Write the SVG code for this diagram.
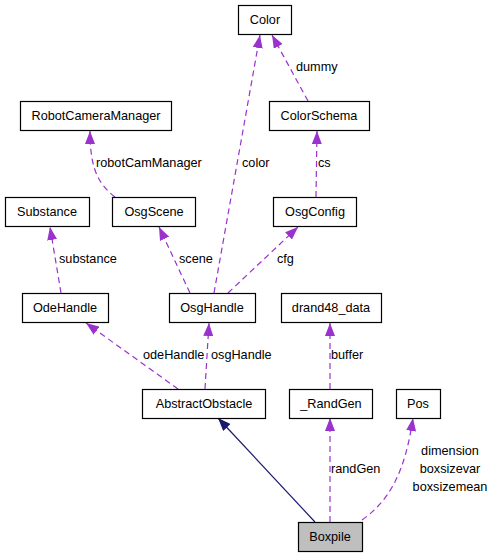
<svg xmlns="http://www.w3.org/2000/svg" width="495" height="557" viewBox="0 0 495 557">
<style>
.box{fill:#ffffff;stroke:#000000;stroke-width:1.2}
.cur{fill:#bfbfbf;stroke:#000000;stroke-width:1.2}
.t{font-family:"Liberation Sans",Arial,sans-serif;font-size:12.7px;fill:#000000;text-anchor:middle}
.l{font-family:"Liberation Sans",Arial,sans-serif;font-size:12.7px;fill:#000000}
.lm{font-family:"Liberation Sans",Arial,sans-serif;font-size:12.7px;fill:#000000;text-anchor:middle}
.u{fill:none;stroke:#9a32cd;stroke-width:1.2;stroke-dasharray:6,4;marker-end:url(#ap)}
.h{fill:none;stroke:#191970;stroke-width:1.2;marker-end:url(#an)}
</style>
<defs>
<marker id="ap" markerUnits="userSpaceOnUse" viewBox="0 0 13 10" markerWidth="13" markerHeight="10" refX="13" refY="5" orient="auto">
<path d="M0,0 L13,5 L0,10 z" fill="#9a32cd"/>
</marker>
<marker id="an" markerUnits="userSpaceOnUse" viewBox="0 0 13 10" markerWidth="13" markerHeight="10" refX="13" refY="5" orient="auto">
<path d="M0,0 L13,5 L0,10 z" fill="#191970"/>
</marker>
</defs>
<g id="connectors">
<path class="u" d="M214,293 L260,35"/>
<path class="u" d="M308,101 L272,35"/>
<path class="u" d="M115,197 C100,185 90,172 90,131"/>
<path class="u" d="M316,197 L317,131"/>
<path class="u" d="M61,293 L50,227"/>
<path class="u" d="M190,293 L159,227"/>
<path class="u" d="M228,293 L298,227"/>
<path class="u" d="M178,389 L86,323"/>
<path class="u" d="M205,389 L209,323"/>
<path class="u" d="M330,389 L330,323"/>
<path class="h" d="M315,522 L218,418"/>
<path class="u" d="M330,522 L330,418"/>
<path class="u" d="M362,520 C390,500 405,472 413,418"/>
<text class="l" x="296" y="71">dummy</text>
<text class="l" x="96" y="167">robotCamManager</text>
<text class="l" x="242" y="167">color</text>
<text class="l" x="318" y="167">cs</text>
<text class="l" x="59" y="263">substance</text>
<text class="l" x="179" y="263">scene</text>
<text class="l" x="277" y="263">cfg</text>
<text class="l" x="143" y="359">odeHandle</text>
<text class="l" x="211" y="359">osgHandle</text>
<text class="l" x="331" y="359">buffer</text>
<text class="l" x="331" y="473">randGen</text>
<text class="lm" x="450" y="455">dimension</text>
<text class="lm" x="450" y="473">boxsizevar</text>
<text class="lm" x="450" y="491">boxsizemean</text>
</g>
<g id="Color"><rect class="box" x="238.5" y="5.5" width="53" height="29"/><text class="t" x="265" y="24">Color</text></g>
<g id="RobotCameraManager"><rect class="box" x="20.5" y="101.5" width="151" height="29"/><text class="t" x="96" y="120">RobotCameraManager</text></g>
<g id="ColorSchema"><rect class="box" x="269.5" y="101.5" width="100" height="29"/><text class="t" x="319" y="120">ColorSchema</text></g>
<g id="Substance"><rect class="box" x="5.5" y="197.5" width="84" height="29"/><text class="t" x="47" y="216">Substance</text></g>
<g id="OsgScene"><rect class="box" x="112.5" y="197.5" width="83" height="29"/><text class="t" x="154" y="216">OsgScene</text></g>
<g id="OsgConfig"><rect class="box" x="273.5" y="197.5" width="83" height="29"/><text class="t" x="315" y="216">OsgConfig</text></g>
<g id="OdeHandle"><rect class="box" x="22.5" y="293.5" width="86" height="29"/><text class="t" x="65" y="312">OdeHandle</text></g>
<g id="OsgHandle"><rect class="box" x="169.5" y="293.5" width="86" height="29"/><text class="t" x="212" y="312">OsgHandle</text></g>
<g id="drand48_data"><rect class="box" x="281.5" y="293.5" width="100" height="29"/><text class="t" x="331" y="312">drand48_data</text></g>
<g id="AbstractObstacle"><rect class="box" x="142.5" y="389.5" width="123" height="29"/><text class="t" x="204" y="408">AbstractObstacle</text></g>
<g id="_RandGen"><rect class="box" x="289.5" y="389.5" width="83" height="29"/><text class="t" x="331" y="408">_RandGen</text></g>
<g id="Pos"><rect class="box" x="396.5" y="389.5" width="44" height="29"/><text class="t" x="418" y="408">Pos</text></g>
<g id="Boxpile"><rect class="cur" x="298.5" y="522.5" width="64" height="29"/><text class="t" x="330" y="541">Boxpile</text></g>
</svg>
